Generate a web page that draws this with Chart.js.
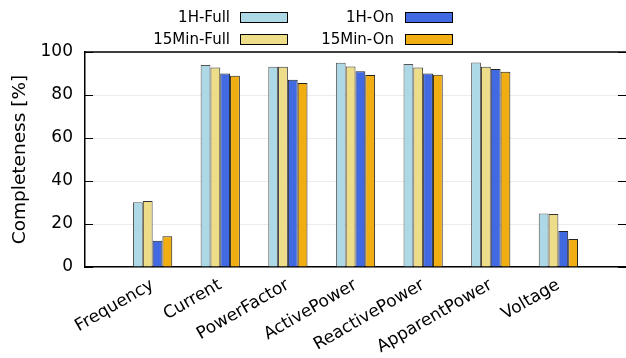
<!DOCTYPE html>
<html>
<head>
<meta charset="utf-8">
<script src="https://cdn.jsdelivr.net/npm/chart.js@4/dist/chart.umd.min.js"></script>
<style>
    html, body { margin: 0; padding: 0; background: #fff; }
    #wrap { width: 626px; height: 358px; }
</style>
</head>
<body>
<div id="wrap"><canvas id="completenessChart" width="626" height="358"></canvas></div>
<script>
// empty slots at both ends give the same gap as gnuplot's xrange [-1:7]
const categories = ["", "Frequency", "Current", "PowerFactor", "ActivePower", "ReactivePower", "ApparentPower", "Voltage", ""];
const fullHour = [null, 30.1, 93.9, 93.1, 95.0, 94.4, 95.1, 24.9, null];
const fullQuarter = [null, 30.7, 92.8, 93.1, 93.3, 92.8, 93.1, 24.6, null];
const onHour = [null, 12.2, 90.0, 87.1, 91.1, 90.0, 92.1, 16.7, null];
const onQuarter = [null, 14.3, 89.0, 85.6, 89.3, 89.4, 90.8, 13.0, null];
const yTicks = [0, 20, 40, 60, 80, 100];

const FONT = "'DejaVu Sans', sans-serif";

//======================[START]-[frame + legend plugin]======================
const gnuplotFrame = {
    id: "gnuplotFrame",
    afterDraw(chart) {
        const ctx = chart.ctx;
        const area = chart.chartArea;
        const y = chart.scales.y;

        ctx.save();
        ctx.strokeStyle = "#000";
        ctx.lineWidth = 1.5;
        ctx.beginPath();
        ctx.moveTo(area.left, area.top);
        ctx.lineTo(area.right, area.top);
        ctx.stroke();

        // inward ticks on both sides
        ctx.lineWidth = 1;
        yTicks.forEach((v) => {
            const py = Math.round(y.getPixelForValue(v)) + 0.5;
            ctx.beginPath();
            ctx.moveTo(area.left, py);
            ctx.lineTo(area.left + 8, py);
            ctx.moveTo(area.right - 8, py);
            ctx.lineTo(area.right, py);
            ctx.stroke();
        });

        // legend in two columns, text right-aligned before the swatch
        const slots = [
            { textX: 230, boxX: 240, y: 17 },
            { textX: 394, boxX: 405, y: 17 },
            { textX: 230, boxX: 240, y: 39 },
            { textX: 394, boxX: 405, y: 39 },
        ];
        ctx.font = "15px " + FONT;
        ctx.textAlign = "right";
        ctx.textBaseline = "middle";
        chart.data.datasets.forEach((ds) => {
            const s = slots[ds.legendSlot];
            ctx.fillStyle = "#000";
            ctx.fillText(ds.label, s.textX, s.y + 1);
            ctx.fillStyle = ds.backgroundColor;
            ctx.fillRect(s.boxX, s.y - 5, 47, 10);
            ctx.strokeStyle = "#000";
            ctx.lineWidth = 1;
            ctx.strokeRect(s.boxX + 0.5, s.y - 5 + 0.5, 47, 10);
        });
        ctx.restore();
    },
};
//======================[END]-[frame + legend plugin]======================

function makeSet(label, data, color, border, slot) {
    return {
        label: label,
        data: data,
        backgroundColor: color,
        borderColor: border,
        borderWidth: 1,
        legendSlot: slot,
    };
}

new Chart(document.getElementById("completenessChart"), {
    type: "bar",
    data: {
        labels: categories,
        datasets: [
            makeSet("1H-Full", fullHour, "#add8e6", "#555", 0),
            makeSet("15Min-Full", fullQuarter, "#eedd88", "#333", 2),
            makeSet("1H-On", onHour, "#4169e1", "#222", 1),
            makeSet("15Min-On", onQuarter, "#f0ae12", "#222", 3),
        ],
    },
    options: {
        responsive: false,
        animation: false,
        devicePixelRatio: 1,
        layout: { padding: { top: 52, right: -3, left: 0, bottom: 0 } },
        datasets: {
            bar: { categoryPercentage: 0.58, barPercentage: 1.0 },
        },
        plugins: {
            legend: { display: false },
            tooltip: { enabled: false },
        },
        scales: {
            x: {
                offset: false,
                grid: { display: false, drawTicks: false },
                border: { display: true, color: "#000", width: 1.5 },
                ticks: {
                    autoSkip: false,
                    minRotation: 30,
                    maxRotation: 30,
                    padding: 8,
                    color: "#000",
                    font: { family: FONT, size: 17 },
                },
                afterFit(scale) {
                    scale.height = 91;
                    scale.paddingLeft = 0;
                    scale.paddingRight = 0;
                },
            },
            y: {
                min: 0,
                max: 100,
                afterBuildTicks(scale) {
                    scale.ticks = yTicks.map((v) => ({ value: v }));
                },
                grid: {
                    color: "#ececec",
                    lineWidth: 1,
                    drawTicks: false,
                },
                border: { display: true, color: "#000", width: 1.5, dash: [] },
                ticks: {
                    padding: 12,
                    color: "#000",
                    font: { family: FONT, size: 17 },
                },
                title: {
                    display: true,
                    text: "Completeness [%]",
                    color: "#000",
                    font: { family: FONT, size: 18.5 },
                    padding: { top: 9, bottom: 0 },
                },
                afterFit(scale) {
                    scale.width = 85;
                    scale.paddingTop = 0;
                    scale.paddingBottom = 0;
                },
            },
        },
    },
    plugins: [gnuplotFrame],
});
</script>
</body>
</html>
